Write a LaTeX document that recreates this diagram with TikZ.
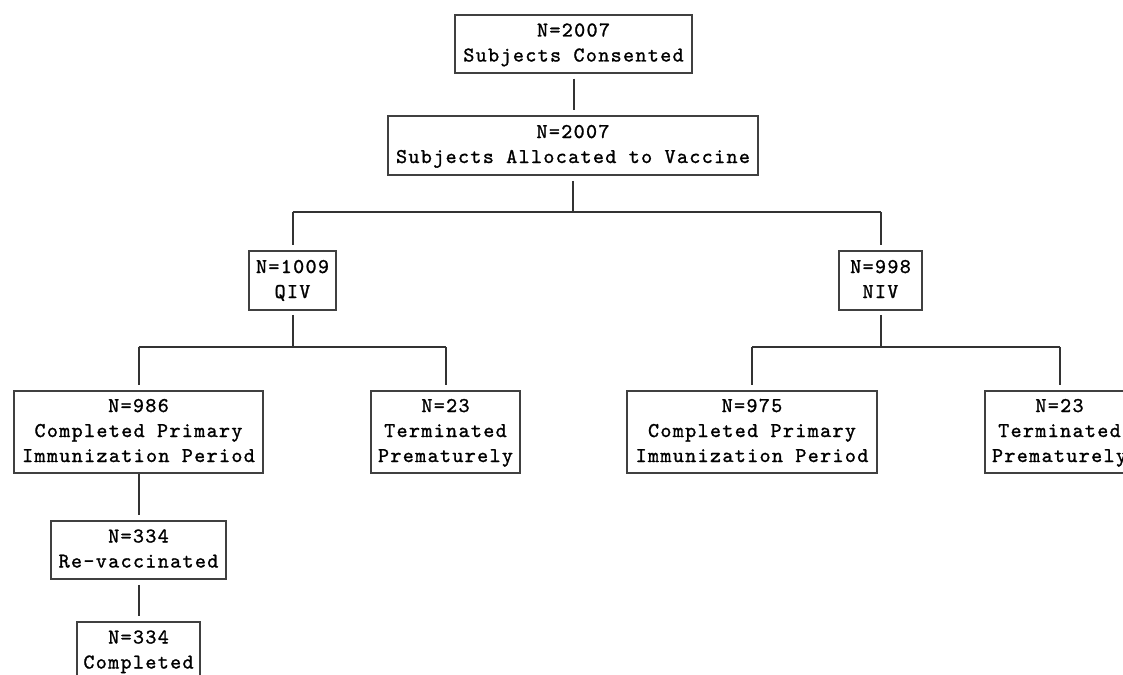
\documentclass[tikz,border=0pt]{standalone}
\usepackage{fontspec}
\newfontfamily\boxfont[LetterSpace=6.5, FakeBold=1.2]{lmmono10-regular.otf}
\newcommand{\sr}{\rule[-5pt]{0pt}{20pt}}
\tikzset{
  box/.style={draw=black!75, line width=1.5pt, inner sep=0pt, align=center,
    font=\fontsize{21}{25}\selectfont\boxfont},
  conn/.style={draw=black!80, line width=2pt},
}
\begin{document}
\begin{tikzpicture}[x=1pt,y=-1pt]
\useasboundingbox (0,0) rectangle (1123,674);
\clip (0,0) rectangle (1123,674);
\node[box, minimum width=237pt, minimum height=58pt] (b1) at (573.5,44) {\sr N=2007\\Subjects Consented\sr};
\node[box, minimum width=370pt, minimum height=59pt] (b2) at (573,145.5) {\sr N=2007\\Subjects Allocated to Vaccine\sr};
\node[box, minimum width=87pt, minimum height=59pt] (qiv) at (292.5,280.5) {\sr N=1009\\QIV\sr};
\node[box, minimum width=83pt, minimum height=59pt] (niv) at (880.5,280.5) {\sr N=998\\NIV\sr};
\node[box, minimum width=249pt, minimum height=82pt] (c1) at (138.5,432) {\sr N=986\\Completed Primary\\Immunization Period\sr};
\node[box, minimum width=149pt, minimum height=82pt] (t1) at (445.5,432) {\sr N=23\\Terminated\\Prematurely\sr};
\node[box, minimum width=250pt, minimum height=82pt] (c2) at (752,432) {\sr N=975\\Completed Primary\\Immunization Period\sr};
\node[box, minimum width=149pt, minimum height=82pt] (t2) at (1059.5,432) {\sr N=23\\Terminated\\Prematurely\sr};
\node[box, minimum width=175pt, minimum height=58pt] (rv) at (138.5,550) {\sr N=334\\Re-vaccinated\sr};
\node[box, minimum width=123pt, minimum height=58pt] (cp) at (138.5,651) {\sr N=334\\Completed\sr};
\coordinate (bar1) at (0,212);
\coordinate (bar2) at (0,347);
% top chain
\draw[conn, shorten <=5pt, shorten >=5pt] (b1.south) -- (b1.south |- b2.north);
% allocation split
\draw[conn, shorten <=5pt] (b2.south) -- (b2.south |- bar1);
\draw[conn] (qiv.north |- bar1) -- (niv.north |- bar1);
\draw[conn, shorten >=5pt] (qiv.north |- bar1) -- (qiv.north);
\draw[conn, shorten >=5pt] (niv.north |- bar1) -- (niv.north);
% QIV split
\draw[conn, shorten <=4pt] (qiv.south) -- (qiv.south |- bar2);
\draw[conn] (c1.north |- bar2) -- (t1.north |- bar2);
\draw[conn, shorten >=5pt] (c1.north |- bar2) -- (c1.north);
\draw[conn, shorten >=5pt] (t1.north |- bar2) -- (t1.north);
% NIV split
\draw[conn, shorten <=4pt] (niv.south) -- (niv.south |- bar2);
\draw[conn] (c2.north |- bar2) -- (t2.north |- bar2);
\draw[conn, shorten >=5pt] (c2.north |- bar2) -- (c2.north);
\draw[conn, shorten >=5pt] (t2.north |- bar2) -- (t2.north);
% QIV completers chain
\draw[conn, shorten >=5pt] (c1.south) -- (rv.north);
\draw[conn, shorten <=5pt, shorten >=5pt] (rv.south) -- (cp.north);
\end{tikzpicture}
\end{document}
